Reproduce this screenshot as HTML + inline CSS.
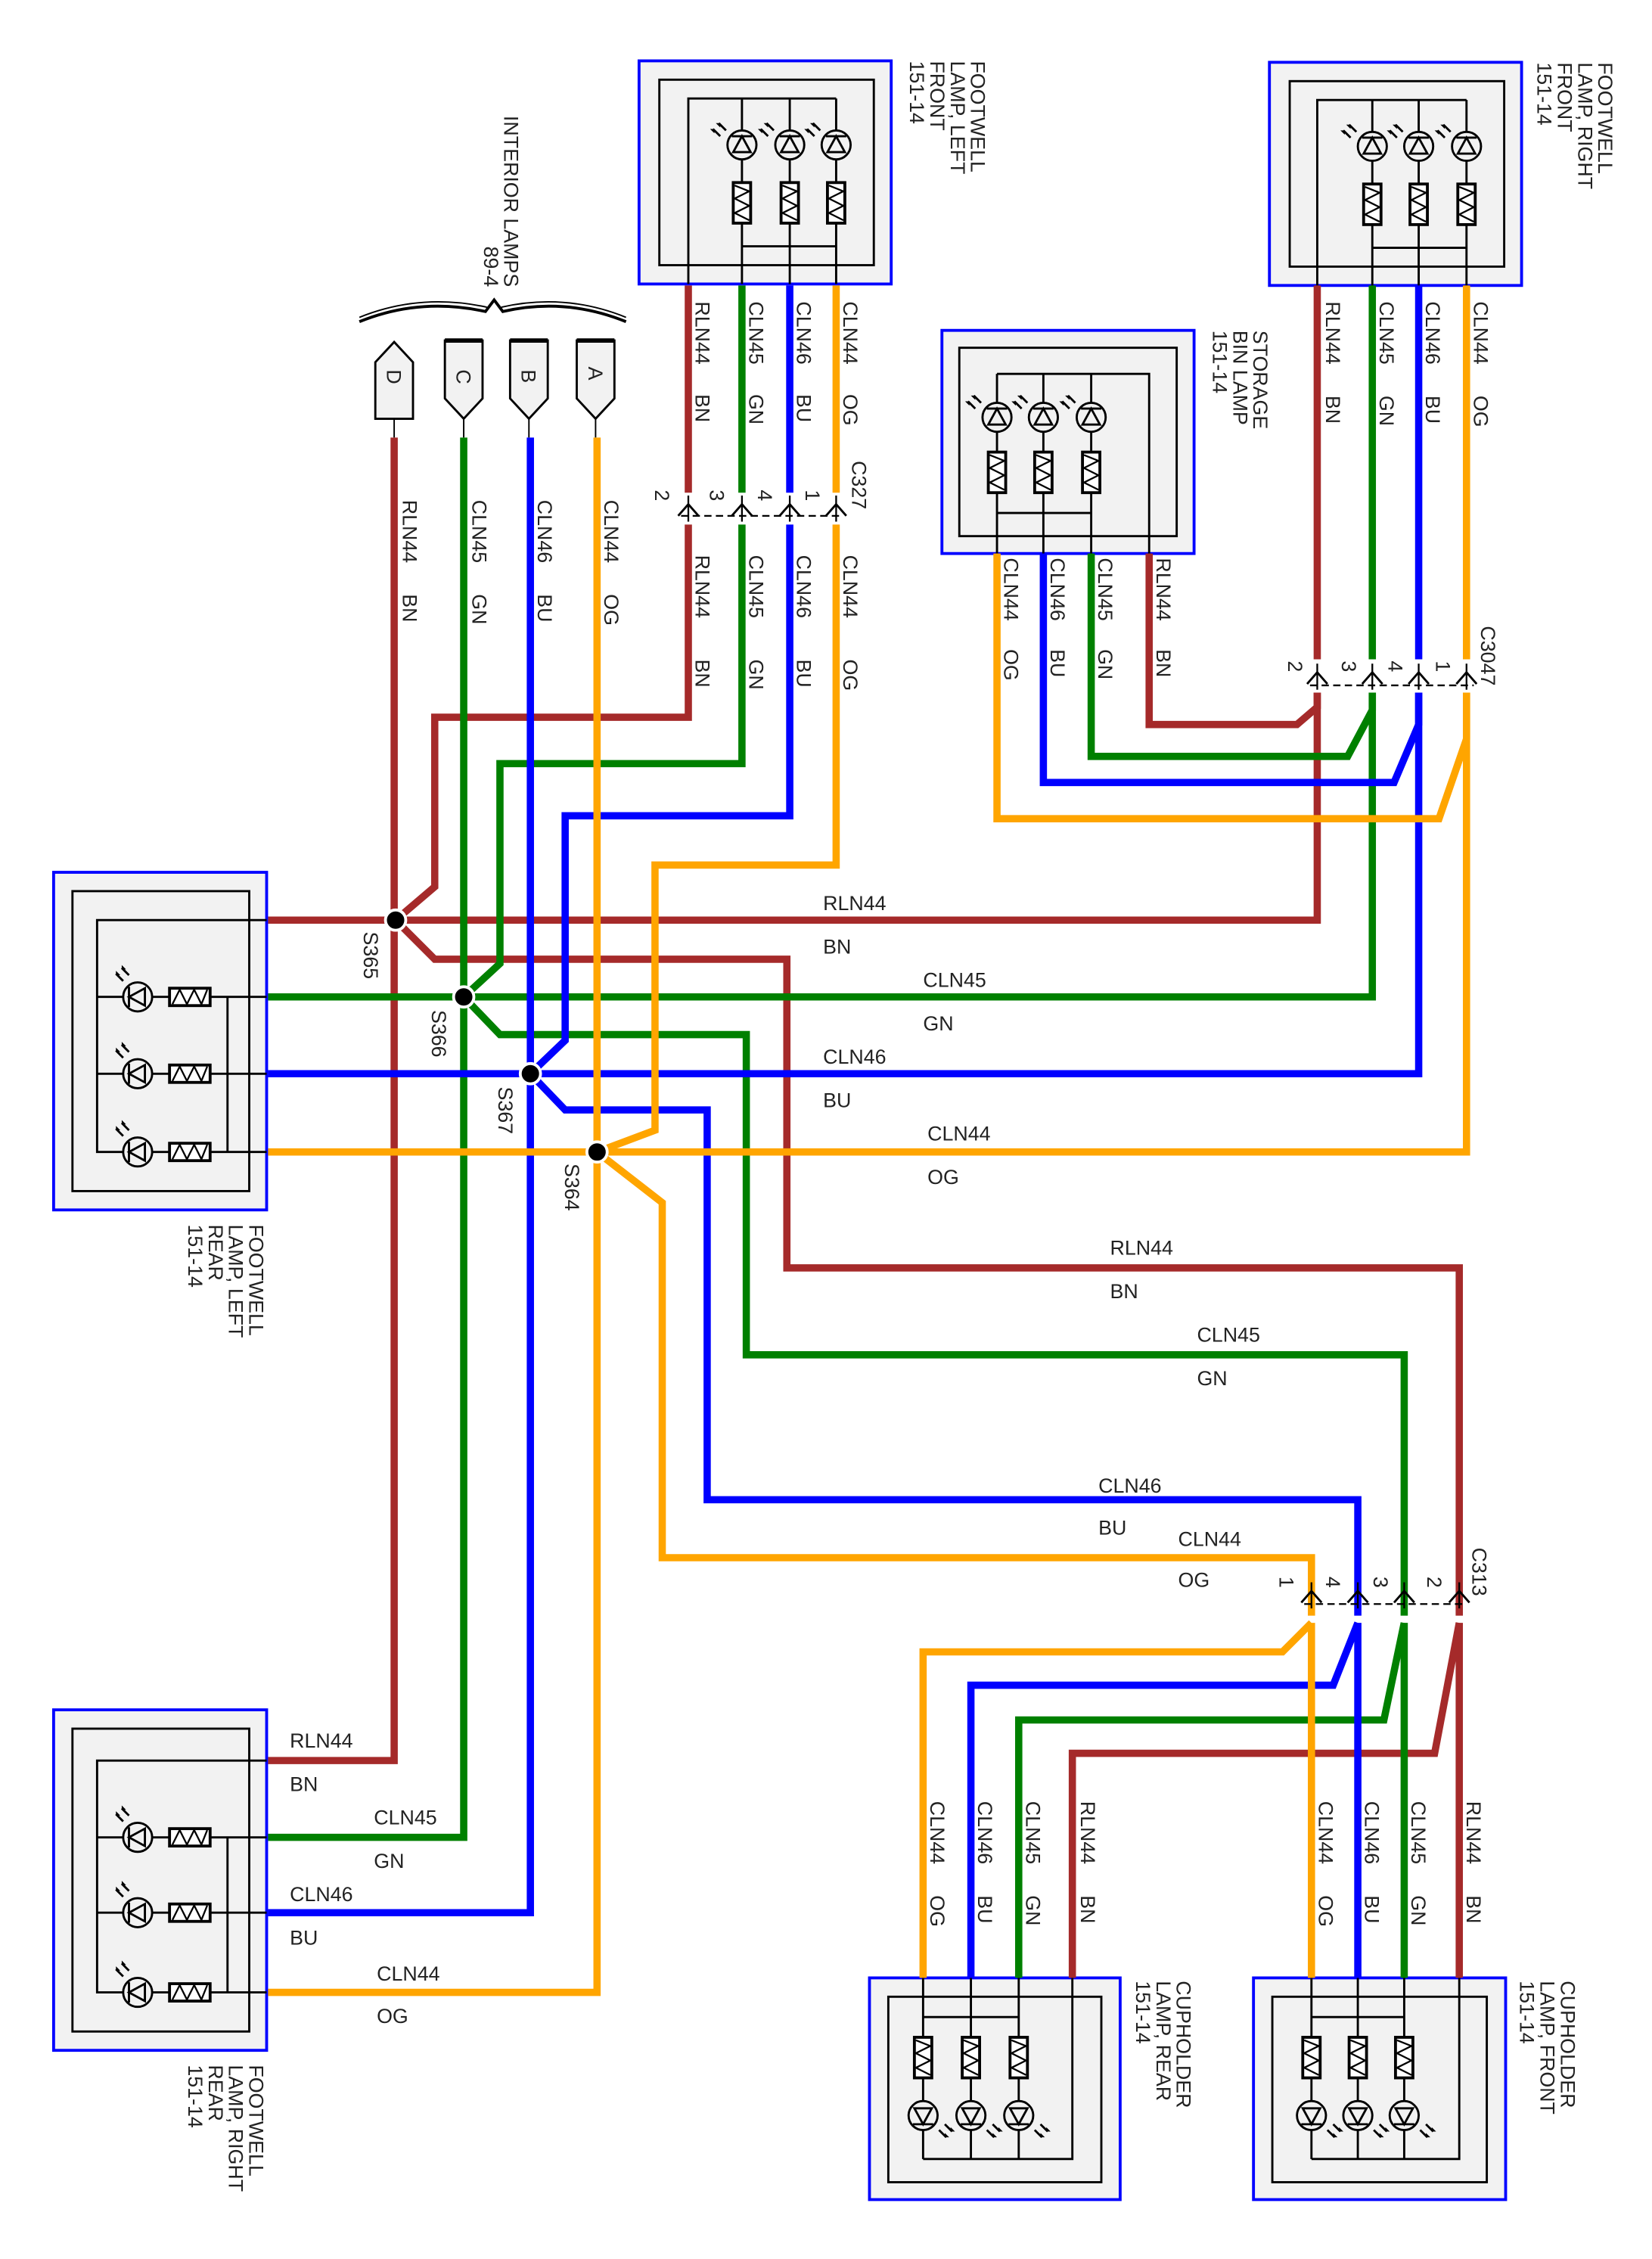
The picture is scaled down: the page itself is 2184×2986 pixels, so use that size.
<!DOCTYPE html>
<html><head><meta charset="utf-8"><style>
html,body{margin:0;padding:0;background:#fff}
svg{display:block}
text{font-family:"Liberation Sans",sans-serif;font-size:14px;fill:#222}
</style></head><body>
<svg width="2184" height="2986" viewBox="0 0 1140 1559" preserveAspectRatio="none" xmlns="http://www.w3.org/2000/svg">
<defs>
<g id="led">
<circle r="10" fill="#f2f2f2" stroke="#000" stroke-width="1.5"/>
<path d="M-6,5 L6,5 L0,-6 Z M-7,-6 H7" fill="none" stroke="#000" stroke-width="1.5"/>
<path d="M-11,-10 L-16,-15 M-15,-6 L-20,-11" stroke="#000" stroke-width="1.5"/>
<path d="M-18,-15 l3,0 l0,3 z M-22,-11 l3,0 l0,3z" fill="#000"/>
</g>
<g id="res">
<rect x="-6" y="-14" width="12" height="28" fill="#fff" stroke="#000" stroke-width="2"/>
<path d="M-5,-12 L5,-8 L-5,-3 L5,2 L-5,7 L5,12" fill="none" stroke="#000" stroke-width="1.2"/>
</g>
<g id="pinU"><path d="M-7,6 L0,-2 L7,6" fill="none" stroke="#000" stroke-width="1.5"/><path d="M0,-8 V10" stroke="#000" stroke-width="1.2"/></g>
</defs>

<g stroke-width="2">
<rect x="441" y="42" width="174" height="154" fill="#f2f2f2" stroke="#0000ff"/>
<rect x="876" y="43" width="174" height="154" fill="#f2f2f2" stroke="#0000ff"/>
<rect x="650" y="228" width="174" height="154" fill="#f2f2f2" stroke="#0000ff"/>
<rect x="37" y="602" width="147" height="233" fill="#f2f2f2" stroke="#0000ff"/>
<rect x="37" y="1180" width="147" height="235" fill="#f2f2f2" stroke="#0000ff"/>
<rect x="600" y="1365" width="173" height="153" fill="#f2f2f2" stroke="#0000ff"/>
<rect x="865" y="1365" width="174" height="153" fill="#f2f2f2" stroke="#0000ff"/>
</g>
<g fill="none" stroke="#000" stroke-width="1.5">
<rect x="455" y="55" width="148" height="128"/>
<rect x="890" y="56" width="148" height="128"/>
<rect x="662" y="240" width="150" height="130"/>
<rect x="50" y="615" width="122" height="207"/>
<rect x="50" y="1193" width="122" height="209"/>
<rect x="613" y="1378" width="147" height="128"/>
<rect x="878" y="1378" width="148" height="128"/>
<path d="M475,196 V68 H577 M512,68 V196 M545,68 V196 M577,68 V196 M512,170 H577"/>
<path d="M909,197 V69 H1012 M947,69 V197 M979,69 V197 M1012,69 V197 M947,171 H1012"/>
<path d="M793,382 V258 H688 M688,258 V382 M720,258 V382 M753,258 V382 M688,354 H753"/>
<path d="M184,635 H67 V795 H184 M67,688 H184 M67,741 H184 M157,688 V795"/>
<path d="M184,1215 H67 V1375 H184 M67,1268 H184 M67,1320 H184 M157,1268 V1375"/>
<path d="M740,1365 V1490 H637 M637,1365 V1490 M670,1365 V1490 M703,1365 V1490 M637,1392 H703"/>
<path d="M1007,1365 V1490 H905 M905,1365 V1490 M937,1365 V1490 M969,1365 V1490 M905,1392 H969"/>
</g>
<use href="#led" x="512" y="100"/><use href="#led" x="545" y="100"/><use href="#led" x="577" y="100"/>
<use href="#res" x="512" y="140"/><use href="#res" x="545" y="140"/><use href="#res" x="577" y="140"/>
<use href="#led" x="947" y="101"/><use href="#led" x="979" y="101"/><use href="#led" x="1012" y="101"/>
<use href="#res" x="947" y="141"/><use href="#res" x="979" y="141"/><use href="#res" x="1012" y="141"/>
<use href="#led" x="688" y="288"/><use href="#led" x="720" y="288"/><use href="#led" x="753" y="288"/>
<use href="#res" x="688" y="326"/><use href="#res" x="720" y="326"/><use href="#res" x="753" y="326"/>
<g transform="translate(95,688) rotate(-90) scale(-1,1)"><use href="#led"/></g>
<g transform="translate(95,741) rotate(-90) scale(-1,1)"><use href="#led"/></g>
<g transform="translate(95,795) rotate(-90) scale(-1,1)"><use href="#led"/></g>
<g transform="translate(131,688) rotate(90)"><use href="#res"/></g>
<g transform="translate(131,741) rotate(90)"><use href="#res"/></g>
<g transform="translate(131,795) rotate(90)"><use href="#res"/></g>
<g transform="translate(95,1268) rotate(-90) scale(-1,1)"><use href="#led"/></g>
<g transform="translate(95,1320) rotate(-90) scale(-1,1)"><use href="#led"/></g>
<g transform="translate(95,1375) rotate(-90) scale(-1,1)"><use href="#led"/></g>
<g transform="translate(131,1268) rotate(90)"><use href="#res"/></g>
<g transform="translate(131,1320) rotate(90)"><use href="#res"/></g>
<g transform="translate(131,1375) rotate(90)"><use href="#res"/></g>
<g transform="translate(637,1460) rotate(180)"><use href="#led"/></g>
<g transform="translate(670,1460) rotate(180)"><use href="#led"/></g>
<g transform="translate(703,1460) rotate(180)"><use href="#led"/></g>
<use href="#res" x="637" y="1420"/><use href="#res" x="670" y="1420"/><use href="#res" x="703" y="1420"/>
<g transform="translate(905,1460) rotate(180)"><use href="#led"/></g>
<g transform="translate(937,1460) rotate(180)"><use href="#led"/></g>
<g transform="translate(969,1460) rotate(180)"><use href="#led"/></g>
<use href="#res" x="905" y="1420"/><use href="#res" x="937" y="1420"/><use href="#res" x="969" y="1420"/>

<path d="M248,222 Q290,205 335,215 L341,207 L347,215 Q390,205 432,222" fill="none" stroke="#000" stroke-width="2"/>
<path d="M248,219 Q290,202 336,212 M346,212 Q390,202 432,219" fill="none" stroke="#000" stroke-width="1"/>
<g fill="#f2f2f2" stroke="#000" stroke-width="1.5">
<path d="M259,289 V250 L272,236 L285,250 V289 Z"/>
<path d="M307,235 H333 V275 L320,289 L307,275 Z"/>
<path d="M352,235 H378 V275 L365,289 L352,275 Z"/>
<path d="M398,235 H424 V275 L411,289 L398,275 Z"/>
</g>
<path d="M307,235 H333 M352,235 H378 M398,235 H424" stroke="#000" stroke-width="3"/>
<path d="M272,289 V302 M320,289 V302 M365,289 V302 M411,289 V302" stroke="#000" stroke-width="1"/>

<g fill="none" stroke-width="5" stroke-linejoin="miter">
<g stroke="#a52a2a">
<path d="M272,302 V1215 H185"/>
<path d="M185,635 H909 V478"/><path d="M909,197 V455"/>
<path d="M273,635 L300,612 V495 H475 V362"/><path d="M475,197 V340"/>
<path d="M273,635 L300,662 H543 V875 H1007 V1115"/>
<path d="M1007,1120 V1365"/><path d="M1007,1120 L990,1210 H740 V1365"/>
<path d="M909,478 V488 L895,500 H793 V382"/>
</g>
<g stroke="#008000">
<path d="M320,302 V1268 H185"/>
<path d="M185,688 H947 V478"/><path d="M947,197 V455"/>
<path d="M320,688 L345,665 V527 H512 V362"/><path d="M512,197 V340"/>
<path d="M320,688 L345,714 H515 V935 H969 V1115"/>
<path d="M969,1120 V1365"/><path d="M969,1120 L955,1187 H703 V1365"/>
<path d="M947,478 V490 L930,522 H753 V382"/>
</g>
<g stroke="#0000ff">
<path d="M366,302 V1320 H185"/>
<path d="M185,741 H979 V478"/><path d="M979,197 V455"/>
<path d="M366,741 L390,718 V563 H545 V362"/><path d="M545,197 V340"/>
<path d="M366,741 L390,766 H488 V1035 H937 V1115"/>
<path d="M937,1120 V1365"/><path d="M937,1120 L920,1163 H670 V1365"/>
<path d="M979,478 V500 L962,540 H720 V382"/>
</g>
<g stroke="#ffa500">
<path d="M412,302 V1375 H185"/>
<path d="M185,795 H1012 V478"/><path d="M1012,197 V455"/>
<path d="M412,795 L452,780 V597 H577 V362"/><path d="M577,197 V340"/>
<path d="M412,795 L457,830 V1075 H905 V1115"/>
<path d="M905,1120 V1365"/><path d="M905,1120 L885,1140 H637 V1365"/>
<path d="M1012,478 V510 L993,565 H688 V382"/>
</g>
</g>

<g fill="#000" stroke="#fff" stroke-width="2">
<circle cx="273" cy="635" r="7"/><circle cx="320" cy="688" r="7"/>
<circle cx="366" cy="741" r="7"/><circle cx="412" cy="795" r="7"/>
</g>

<use href="#pinU" x="475" y="350"/><use href="#pinU" x="512" y="350"/><use href="#pinU" x="545" y="350"/><use href="#pinU" x="577" y="350"/>
<path d="M470,356 H582" stroke="#000" stroke-width="1.2" stroke-dasharray="5,3"/>
<use href="#pinU" x="909" y="466"/><use href="#pinU" x="947" y="466"/><use href="#pinU" x="979" y="466"/><use href="#pinU" x="1012" y="466"/>
<path d="M904,473 H1017" stroke="#000" stroke-width="1.2" stroke-dasharray="5,3"/>
<use href="#pinU" x="905" y="1100"/><use href="#pinU" x="937" y="1100"/><use href="#pinU" x="969" y="1100"/><use href="#pinU" x="1007" y="1100"/>
<path d="M900,1107 H1012" stroke="#000" stroke-width="1.2" stroke-dasharray="5,3"/>

<text x="568" y="628">RLN44</text><text x="568" y="658">BN</text>
<text x="637" y="681">CLN45</text><text x="637" y="711">GN</text>
<text x="568" y="734">CLN46</text><text x="568" y="764">BU</text>
<text x="640" y="787">CLN44</text><text x="640" y="817">OG</text>
<text x="766" y="866">RLN44</text><text x="766" y="896">BN</text>
<text x="826" y="926">CLN45</text><text x="826" y="956">GN</text>
<text x="758" y="1030">CLN46</text><text x="758" y="1059">BU</text>
<text x="813" y="1067">CLN44</text><text x="813" y="1095">OG</text>
<text x="200" y="1206">RLN44</text><text x="200" y="1236">BN</text>
<text x="258" y="1259">CLN45</text><text x="258" y="1289">GN</text>
<text x="200" y="1312">CLN46</text><text x="200" y="1342">BU</text>
<text x="260" y="1367">CLN44</text><text x="260" y="1396">OG</text>

<g>
<text transform="translate(480,208) rotate(90)">RLN44</text><text transform="translate(480,272) rotate(90)">BN</text>
<text transform="translate(517,208) rotate(90)">CLN45</text><text transform="translate(517,272) rotate(90)">GN</text>
<text transform="translate(550,208) rotate(90)">CLN46</text><text transform="translate(550,272) rotate(90)">BU</text>
<text transform="translate(582,208) rotate(90)">CLN44</text><text transform="translate(582,272) rotate(90)">OG</text>
<text transform="translate(480,383) rotate(90)">RLN44</text><text transform="translate(480,455) rotate(90)">BN</text>
<text transform="translate(517,383) rotate(90)">CLN45</text><text transform="translate(517,455) rotate(90)">GN</text>
<text transform="translate(550,383) rotate(90)">CLN46</text><text transform="translate(550,455) rotate(90)">BU</text>
<text transform="translate(582,383) rotate(90)">CLN44</text><text transform="translate(582,455) rotate(90)">OG</text>
<text transform="translate(915,208) rotate(90)">RLN44</text><text transform="translate(915,273) rotate(90)">BN</text>
<text transform="translate(952,208) rotate(90)">CLN45</text><text transform="translate(952,273) rotate(90)">GN</text>
<text transform="translate(984,208) rotate(90)">CLN46</text><text transform="translate(984,273) rotate(90)">BU</text>
<text transform="translate(1017,208) rotate(90)">CLN44</text><text transform="translate(1017,273) rotate(90)">OG</text>
<text transform="translate(693,385) rotate(90)">CLN44</text><text transform="translate(693,448) rotate(90)">OG</text>
<text transform="translate(725,385) rotate(90)">CLN46</text><text transform="translate(725,448) rotate(90)">BU</text>
<text transform="translate(758,385) rotate(90)">CLN45</text><text transform="translate(758,448) rotate(90)">GN</text>
<text transform="translate(798,385) rotate(90)">RLN44</text><text transform="translate(798,448) rotate(90)">BN</text>
<text transform="translate(278,345) rotate(90)">RLN44</text><text transform="translate(278,410) rotate(90)">BN</text>
<text transform="translate(326,345) rotate(90)">CLN45</text><text transform="translate(326,410) rotate(90)">GN</text>
<text transform="translate(371,345) rotate(90)">CLN46</text><text transform="translate(371,410) rotate(90)">BU</text>
<text transform="translate(417,345) rotate(90)">CLN44</text><text transform="translate(417,410) rotate(90)">OG</text>
<text transform="translate(642,1243) rotate(90)">CLN44</text><text transform="translate(642,1308) rotate(90)">OG</text>
<text transform="translate(675,1243) rotate(90)">CLN46</text><text transform="translate(675,1308) rotate(90)">BU</text>
<text transform="translate(708,1243) rotate(90)">CLN45</text><text transform="translate(708,1308) rotate(90)">GN</text>
<text transform="translate(746,1243) rotate(90)">RLN44</text><text transform="translate(746,1308) rotate(90)">BN</text>
<text transform="translate(910,1243) rotate(90)">CLN44</text><text transform="translate(910,1308) rotate(90)">OG</text>
<text transform="translate(942,1243) rotate(90)">CLN46</text><text transform="translate(942,1308) rotate(90)">BU</text>
<text transform="translate(974,1243) rotate(90)">CLN45</text><text transform="translate(974,1308) rotate(90)">GN</text>
<text transform="translate(1012,1243) rotate(90)">RLN44</text><text transform="translate(1012,1308) rotate(90)">BN</text>
<text transform="translate(251,643) rotate(90)">S365</text>
<text transform="translate(298,697) rotate(90)">S366</text>
<text transform="translate(344,750) rotate(90)">S367</text>
<text transform="translate(390,803) rotate(90)">S364</text>
<text transform="translate(588,318) rotate(90)">C327</text>
<text transform="translate(452,338) rotate(90)">2</text><text transform="translate(490,338) rotate(90)">3</text>
<text transform="translate(523,338) rotate(90)">4</text><text transform="translate(556,338) rotate(90)">1</text>
<text transform="translate(1022,432) rotate(90)">C3047</text>
<text transform="translate(889,456) rotate(90)">2</text><text transform="translate(926,456) rotate(90)">3</text>
<text transform="translate(958,456) rotate(90)">4</text><text transform="translate(991,456) rotate(90)">1</text>
<text transform="translate(1016,1068) rotate(90)">C313</text>
<text transform="translate(883,1088) rotate(90)">1</text><text transform="translate(915,1088) rotate(90)">4</text>
<text transform="translate(948,1088) rotate(90)">3</text><text transform="translate(985,1088) rotate(90)">2</text>
<text transform="translate(267,255) rotate(90)">D</text>
<text transform="translate(315,255) rotate(90)">C</text>
<text transform="translate(360,255) rotate(90)">B</text>
<text transform="translate(406,253) rotate(90)">A</text>
<text transform="translate(348,198) rotate(90)" text-anchor="end">INTERIOR LAMPS</text>
<text transform="translate(334,198) rotate(90)" text-anchor="end">89-4</text>
<text transform="translate(670,42) rotate(90)">FOOTWELL</text>
<text transform="translate(656,42) rotate(90)">LAMP, LEFT</text>
<text transform="translate(642,42) rotate(90)">FRONT</text>
<text transform="translate(628,42) rotate(90)">151-14</text>
<text transform="translate(1103,43) rotate(90)">FOOTWELL</text>
<text transform="translate(1089,43) rotate(90)">LAMP, RIGHT</text>
<text transform="translate(1075,43) rotate(90)">FRONT</text>
<text transform="translate(1061,43) rotate(90)">151-14</text>
<text transform="translate(865,228) rotate(90)">STORAGE</text>
<text transform="translate(851,228) rotate(90)">BIN LAMP</text>
<text transform="translate(837,228) rotate(90)">151-14</text>
<text transform="translate(172,845) rotate(90)">FOOTWELL</text>
<text transform="translate(158,845) rotate(90)">LAMP, LEFT</text>
<text transform="translate(144,845) rotate(90)">REAR</text>
<text transform="translate(130,845) rotate(90)">151-14</text>
<text transform="translate(172,1425) rotate(90)">FOOTWELL</text>
<text transform="translate(158,1425) rotate(90)">LAMP, RIGHT</text>
<text transform="translate(144,1425) rotate(90)">REAR</text>
<text transform="translate(130,1425) rotate(90)">151-14</text>
<text transform="translate(812,1367) rotate(90)">CUPHOLDER</text>
<text transform="translate(798,1367) rotate(90)">LAMP, REAR</text>
<text transform="translate(784,1367) rotate(90)">151-14</text>
<text transform="translate(1077,1367) rotate(90)">CUPHOLDER</text>
<text transform="translate(1063,1367) rotate(90)">LAMP, FRONT</text>
<text transform="translate(1049,1367) rotate(90)">151-14</text>
</g>
</svg>
</body></html>
